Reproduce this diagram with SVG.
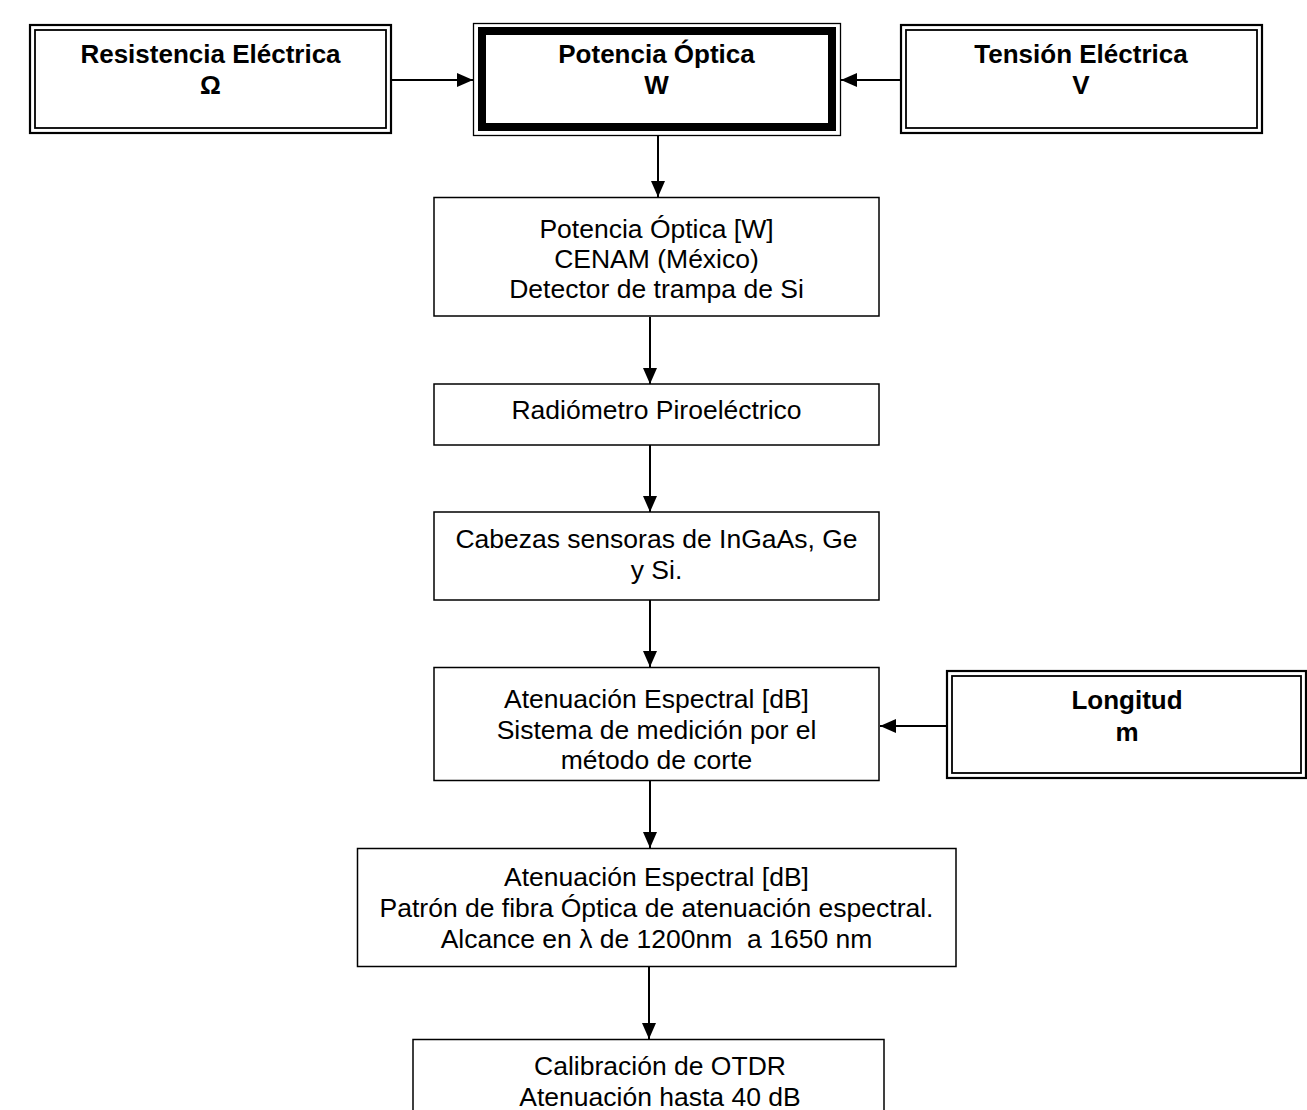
<svg xmlns="http://www.w3.org/2000/svg" width="1307" height="1110" viewBox="0 0 1307 1110">
<defs>
<marker id="ah" markerUnits="userSpaceOnUse" markerWidth="16" markerHeight="14" refX="16" refY="7" orient="auto">
<path d="M0,0 L16,7 L0,14 z" fill="#000"/>
</marker>
<style>
.bx{fill:#fff;stroke:#000;stroke-width:1.5}
.d1{fill:none;stroke:#000;stroke-width:2.2}
.d2{fill:none;stroke:#000;stroke-width:1.8}
.t{font-family:"Liberation Sans",Arial,sans-serif;font-size:26.5px;fill:#000;text-anchor:middle;white-space:pre}
.b{font-family:"Liberation Sans",Arial,sans-serif;font-size:26px;font-weight:bold;fill:#000;text-anchor:middle}
.c{fill:none;stroke:#000;stroke-width:2;marker-end:url(#ah)}
</style>
</defs>
<rect width="1307" height="1110" fill="#fff"/>
<g id="connectors">
<line class="c" x1="391" y1="80" x2="473" y2="80"/>
<line class="c" x1="900" y1="80" x2="841" y2="80"/>
<line class="c" x1="658" y1="136" x2="658" y2="197"/>
<line class="c" x1="650" y1="317" x2="650" y2="384"/>
<line class="c" x1="650" y1="445" x2="650" y2="512"/>
<line class="c" x1="650" y1="600" x2="650" y2="667"/>
<line class="c" x1="946" y1="726" x2="880" y2="726"/>
<line class="c" x1="650" y1="781" x2="650" y2="848"/>
<line class="c" x1="649" y1="967" x2="649" y2="1039"/>
</g>
<g id="resistencia">
<rect class="d1" x="30" y="25" width="361" height="108"/>
<rect class="d2" x="35" y="30" width="351" height="98"/>
<text class="b" x="210.5" y="63">Resistencia Eléctrica</text>
<text class="b" x="210.5" y="94">Ω</text>
</g>
<g id="potencia">
<rect fill="none" stroke="#000" stroke-width="1.3" x="473.5" y="23.5" width="367" height="112"/>
<rect fill="none" stroke="#000" stroke-width="8" x="482" y="31" width="350" height="96"/>
<text class="b" x="656.5" y="63">Potencia Óptica</text>
<text class="b" x="656.5" y="94">W</text>
</g>
<g id="tension">
<rect class="d1" x="901" y="25" width="361" height="108"/>
<rect class="d2" x="906" y="30" width="351" height="98"/>
<text class="b" x="1081" y="63">Tensión Eléctrica</text>
<text class="b" x="1081" y="94">V</text>
</g>
<g id="potencia-cenam">
<rect class="bx" x="434" y="197.5" width="445" height="118.5"/>
<text class="t" x="656.5" y="238">Potencia Óptica [W]</text>
<text class="t" x="656.5" y="268">CENAM (México)</text>
<text class="t" x="656.5" y="298">Detector de trampa de Si</text>
</g>
<g id="radiometro">
<rect class="bx" x="434" y="384" width="445" height="61"/>
<text class="t" x="656.5" y="419">Radiómetro Piroeléctrico</text>
</g>
<g id="cabezas">
<rect class="bx" x="434" y="512" width="445" height="88"/>
<text class="t" x="656.5" y="548">Cabezas sensoras de InGaAs, Ge</text>
<text class="t" x="656.5" y="579">y Si.</text>
</g>
<g id="atenuacion-corte">
<rect class="bx" x="434" y="667.5" width="445" height="113"/>
<text class="t" x="656.5" y="708">Atenuación Espectral [dB]</text>
<text class="t" x="656.5" y="739">Sistema de medición por el</text>
<text class="t" x="656.5" y="769">método de corte</text>
</g>
<g id="longitud">
<rect class="d1" x="947" y="671" width="359" height="107"/>
<rect class="d2" x="952" y="676" width="349" height="97"/>
<text class="b" x="1127" y="709">Longitud</text>
<text class="b" x="1127" y="741">m</text>
</g>
<g id="patron-fibra">
<rect class="bx" x="357.5" y="848.5" width="598.5" height="118"/>
<text class="t" x="656.5" y="886">Atenuación Espectral [dB]</text>
<text class="t" x="656.5" y="917">Patrón de fibra Óptica de atenuación espectral.</text>
<text class="t" x="656.5" y="948">Alcance en λ de 1200nm  a 1650 nm</text>
</g>
<g id="otdr">
<rect class="bx" x="413" y="1039.5" width="471" height="100"/>
<text class="t" x="660" y="1075">Calibración de OTDR</text>
<text class="t" x="660" y="1106">Atenuación hasta 40 dB</text>
</g>
</svg>
